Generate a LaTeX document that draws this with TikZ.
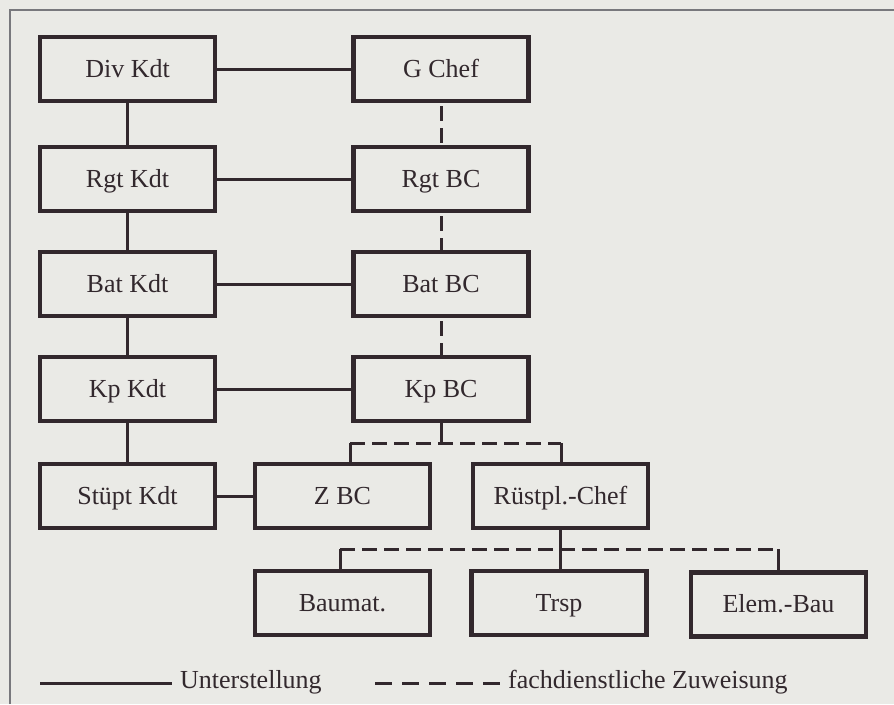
\documentclass[tikz,border=0pt]{standalone}
\usepackage{fontspec}
\setmainfont{Liberation Serif}
\definecolor{ink}{RGB}{50,40,45}
\definecolor{paper}{RGB}{234,234,230}
\definecolor{framec}{RGB}{120,120,125}
\begin{document}
\begin{tikzpicture}[x=1pt,y=-1pt,
  box/.style={draw=ink, line width=4.4pt, minimum width=175pt, minimum height=64pt, inner sep=0pt, text=ink, text height=20pt, text depth=4pt, font=\fontsize{26}{30}\selectfont},
  solidcon/.style={draw=ink, line width=3pt},
  dashcon/.style={draw=ink, line width=3pt, dash pattern=on 15pt off 7pt},
  legtext/.style={anchor=west, inner sep=0pt, text=ink, font=\fontsize{26}{30}\selectfont}]
\fill[paper] (0,0) rectangle (894,704);
\useasboundingbox (0,0) rectangle (894,704);
\draw[framec, line width=1.2pt] (10,704) -- (10,10) -- (894,10);
% left column
\node[box] (div) at (127.5,69) {Div Kdt};
\node[box] (rgt) at (127.5,179) {Rgt Kdt};
\node[box] (bat) at (127.5,284) {Bat Kdt};
\node[box] (kp) at (127.5,389) {Kp Kdt};
\node[box] (stu) at (127.5,496) {Stüpt Kdt};
% right column
\node[box] (gc) at (441,69) {G Chef};
\node[box] (rbc) at (441,179) {Rgt BC};
\node[box] (bbc) at (441,284) {Bat BC};
\node[box] (kbc) at (441,389) {Kp BC};
% lower rows
\node[box] (zbc) at (342.5,496) {Z BC};
\node[box] (rp) at (560.5,496) {Rüstpl.-Chef};
\node[box] (bm) at (342.5,603) {Baumat.};
\node[box] (tr) at (559,603) {Trsp};
\node[box] (el) at (778.5,604.5) {Elem.-Bau};
% vertical solid left
\draw[solidcon] (div) -- (rgt);
\draw[solidcon] (rgt) -- (bat);
\draw[solidcon] (bat) -- (kp);
\draw[solidcon] (kp) -- (stu);
% horizontal solid
\draw[solidcon] (div) -- (gc);
\draw[solidcon] (rgt) -- (rbc);
\draw[solidcon] (bat) -- (bbc);
\draw[solidcon] (kp) -- (kbc);
\draw[solidcon] (stu) -- (zbc);
% dashed verticals right
\draw[dashcon, dash phase=-3pt] (gc) -- (rbc);
\draw[dashcon, dash phase=-3pt] (rbc) -- (bbc);
\draw[dashcon, dash phase=-3pt] (bbc) -- (kbc);
% first bracket
\coordinate (b1) at (441,443);
\coordinate (b1l) at (350,443);
\coordinate (b1r) at (561,443);
\draw[solidcon] (kbc.south) -- (b1);
\draw[dashcon] (b1l) -- (b1r);
\draw[solidcon] (b1l) -- (b1l |- zbc.north);
\draw[solidcon] (b1r) -- (b1r |- rp.north);
% second bracket
\coordinate (b2) at (560.5,549);
\coordinate (b2l) at (340,549);
\coordinate (b2m) at (560,549);
\coordinate (b2r) at (778,549);
\draw[solidcon] (rp.south) -- (b2);
\draw[dashcon] (b2l) -- (b2r);
\draw[solidcon] (b2l) -- (b2l |- bm.north);
\draw[solidcon] (b2m) -- (b2m |- tr.north);
\draw[solidcon] (b2r) -- (b2r |- el.north);
% legend
\coordinate (l1a) at (40,683);
\coordinate (l1b) at (172,683);
\draw[solidcon] (l1a) -- (l1b);
\node[legtext] (t1) at (180,682) {Unterstellung};
\coordinate (l2a) at (375,683);
\coordinate (l2b) at (500,683);
\draw[draw=ink, line width=3pt, dash pattern=on 17pt off 10pt] (l2a) -- (l2b);
\node[legtext] (t2) at (508,682) {fachdienstliche Zuweisung};
\end{tikzpicture}
\end{document}
